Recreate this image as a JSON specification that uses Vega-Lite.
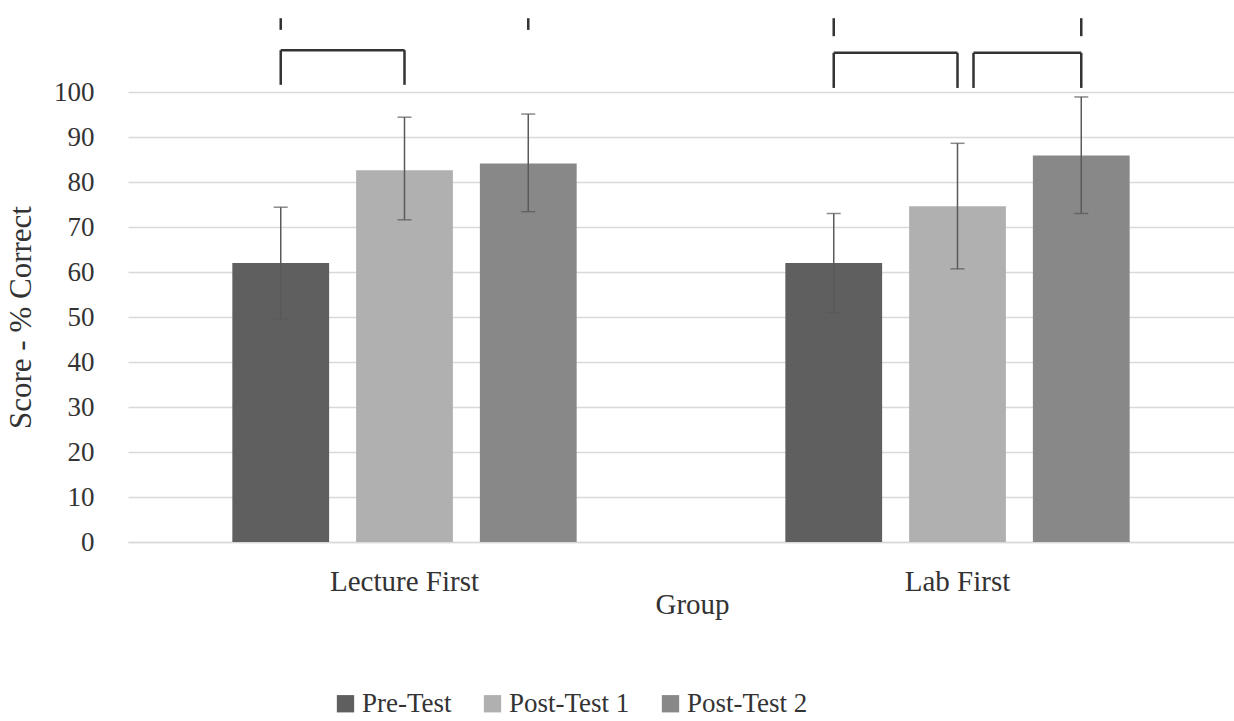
{
  "$schema": "https://vega.github.io/schema/vega-lite/v6.json",
  "width": 1106,
  "height": 450,
  "autosize": {"type": "none"},
  "padding": {"left": 128, "top": 92, "right": 0, "bottom": 179},
  "background": "white",
  "config": {
    "view": {"stroke": null},
    "font": "Liberation Serif",
    "axis": {"labelFont": "Liberation Serif", "titleFont": "Liberation Serif", "labelColor": "#333333", "titleColor": "#333333", "titleFontWeight": "normal"},
    "legend": {"labelFont": "Liberation Serif", "labelColor": "#333333"}
  },
  "datasets": {
    "scores": [
      {"group": "Lecture First", "test": "Pre-Test", "mean": 62.0, "lower": 49.6, "upper": 74.4},
      {"group": "Lecture First", "test": "Post-Test 1", "mean": 82.6, "lower": 71.6, "upper": 94.4},
      {"group": "Lecture First", "test": "Post-Test 2", "mean": 84.1, "lower": 73.4, "upper": 95.1},
      {"group": "Lab First", "test": "Pre-Test", "mean": 62.0, "lower": 51.0, "upper": 73.0},
      {"group": "Lab First", "test": "Post-Test 1", "mean": 74.6, "lower": 60.7, "upper": 88.6},
      {"group": "Lab First", "test": "Post-Test 2", "mean": 85.9, "lower": 73.0, "upper": 98.9}
    ],
    "legs": [
      {"group": "Lecture First", "test": "Pre-Test", "from": 113.8, "to": 116.4},
      {"group": "Lecture First", "test": "Post-Test 2", "from": 113.8, "to": 116.4},
      {"group": "Lab First", "test": "Pre-Test", "from": 112.4, "to": 116.4},
      {"group": "Lab First", "test": "Post-Test 2", "from": 112.4, "to": 116.4},
      {"group": "Lecture First", "test": "Pre-Test", "from": 101.6, "to": 109.3},
      {"group": "Lecture First", "test": "Post-Test 1", "from": 101.6, "to": 109.3},
      {"group": "Lab First", "test": "Pre-Test", "from": 100.9, "to": 108.7},
      {"group": "Lab First", "test": "Post-Test 1", "from": 100.9, "to": 108.7},
      {"group": "Lab First", "test": "Post-Test 2", "from": 100.9, "to": 108.7}
    ],
    "innerLegs": [
      {"group": "Lab First", "from": 100.9, "to": 108.7}
    ],
    "tops": [
      {"group": "Lecture First", "test": "Pre-Test", "level": 109.3},
      {"group": "Lab First", "test": "Pre-Test", "level": 108.7}
    ],
    "rightTops": [
      {"group": "Lab First", "test": "Post-Test 2", "level": 108.7}
    ]
  },
  "encoding": {
    "x": {
      "field": "group", "type": "nominal",
      "sort": ["Lecture First", "Lab First"],
      "scale": {"domain": ["Lecture First", "Lab First"], "paddingInner": 0, "paddingOuter": 0},
      "axis": {
        "title": "Group", "labelAngle": 0, "labelFontSize": 29, "titleFontSize": 29,
        "labelPadding": 25, "titlePadding": -6, "ticks": false,
        "domain": true, "domainColor": "#d9d9d9", "domainWidth": 1.5, "grid": false,
        "titleX": 564
      }
    }
  },
  "layer": [
    {
      "data": {"name": "scores"},
      "mark": {"type": "bar"},
      "encoding": {
        "xOffset": {"field": "test", "type": "nominal", "sort": ["Pre-Test", "Post-Test 1", "Post-Test 2"],
          "scale": {"domain": ["Pre-Test", "Post-Test 1", "Post-Test 2"], "paddingInner": 0.218, "paddingOuter": 0.843}},
        "y": {
          "field": "mean", "type": "quantitative",
          "scale": {"domain": [0, 100], "nice": false},
          "axis": {
            "title": "Score - % Correct", "values": [0, 10, 20, 30, 40, 50, 60, 70, 80, 90, 100],
            "labelFontSize": 27, "titleFontSize": 31, "labelPadding": 34, "titlePadding": 16,
            "ticks": false, "domain": false, "grid": true, "gridColor": "#d9d9d9", "gridWidth": 1.5
          }
        },
        "color": {
          "field": "test", "type": "nominal",
          "scale": {"domain": ["Pre-Test", "Post-Test 1", "Post-Test 2"], "range": ["#5f5f5f", "#b0b0b0", "#888888"]},
          "legend": {
            "title": null, "orient": "none", "direction": "horizontal", "legendX": 204, "legendY": 598,
            "symbolType": "square", "symbolSize": 300, "symbolStrokeWidth": 0, "labelFontSize": 27,
            "labelOffset": 3, "columnPadding": 27
          }
        }
      }
    },
    {
      "data": {"name": "scores"},
      "mark": {"type": "rule", "color": "#595959", "strokeWidth": 1.5},
      "encoding": {
        "xOffset": {"field": "test", "type": "nominal"},
        "y": {"field": "lower", "type": "quantitative"},
        "y2": {"field": "upper"}
      }
    },
    {
      "data": {"name": "scores"},
      "mark": {"type": "tick", "color": "#595959", "thickness": 1.5, "size": 14, "orient": "horizontal"},
      "encoding": {
        "xOffset": {"field": "test", "type": "nominal"},
        "y": {"field": "upper", "type": "quantitative"}
      }
    },
    {
      "data": {"name": "scores"},
      "mark": {"type": "tick", "color": "#595959", "thickness": 1.5, "size": 14, "orient": "horizontal"},
      "encoding": {
        "xOffset": {"field": "test", "type": "nominal"},
        "y": {"field": "lower", "type": "quantitative"}
      }
    },
    {
      "data": {"name": "legs"},
      "mark": {"type": "rule", "color": "#333333", "strokeWidth": 2.5},
      "encoding": {
        "xOffset": {"field": "test", "type": "nominal"},
        "y": {"field": "from", "type": "quantitative"},
        "y2": {"field": "to"}
      }
    },
    {
      "data": {"name": "innerLegs"},
      "mark": {"type": "rule", "color": "#333333", "strokeWidth": 2.5, "xOffset": 16},
      "encoding": {
        "y": {"field": "from", "type": "quantitative"},
        "y2": {"field": "to"}
      }
    },
    {
      "data": {"name": "tops"},
      "mark": {"type": "rule", "color": "#333333", "strokeWidth": 2.5},
      "encoding": {
        "xOffset": {"field": "test", "type": "nominal"},
        "x2": {"field": "group"},
        "y": {"field": "level", "type": "quantitative"}
      }
    },
    {
      "data": {"name": "rightTops"},
      "mark": {"type": "rule", "color": "#333333", "strokeWidth": 2.5, "x2Offset": 16},
      "encoding": {
        "xOffset": {"field": "test", "type": "nominal"},
        "x2": {"field": "group"},
        "y": {"field": "level", "type": "quantitative"}
      }
    }
  ]
}
